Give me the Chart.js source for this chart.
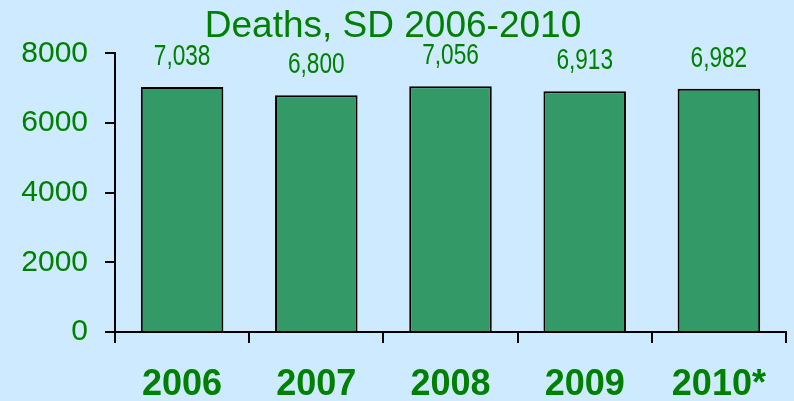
<!DOCTYPE html>
<html>
<head>
<meta charset="utf-8">
<script src="https://cdn.jsdelivr.net/npm/chart.js@4.4.1/dist/chart.umd.min.js"></script>
<style>
  html, body { margin: 0; padding: 0; background: #cdeafe; }
  #wrap { width: 794px; height: 401px; }
</style>
</head>
<body>
<div id="wrap"><canvas id="deathsChart" width="794" height="401"></canvas></div>
<script>
const years = ['2006', '2007', '2008', '2009', '2010*'];
const deaths = [7038, 6800, 7056, 6913, 6982];
const yTicks = [0, 2000, 4000, 6000, 8000];

const GREEN = '#008000';

// number above each bar, e.g. "7,038", in a narrowed face
const valueLabels = {
    id: 'valueLabels',
    afterDatasetsDraw(chart) {
        const ctx = chart.ctx;
        const meta = chart.getDatasetMeta(0);
        const squeeze = 0.78;
        ctx.save();
        ctx.fillStyle = GREEN;
        ctx.font = '29px "Liberation Sans", Arial, sans-serif';
        ctx.textAlign = 'center';
        ctx.textBaseline = 'alphabetic';
        meta.data.forEach((bar, i) => {
            ctx.save();
            ctx.translate(bar.x, bar.y - 22);
            ctx.scale(squeeze, 1);
            ctx.fillText(deaths[i].toLocaleString('en-US'), 0, 0);
            ctx.restore();
        });
        ctx.restore();
    }
};

const ctx = document.getElementById('deathsChart').getContext('2d');
new Chart(ctx, {
    type: 'bar',
    data: {
        labels: years,
        datasets: [{
            data: deaths,
            backgroundColor: '#339966',
            borderColor: '#000000',
            borderWidth: 2,
            borderSkipped: 'bottom',
            categoryPercentage: 1,
            barPercentage: 0.615
        }]
    },
    options: {
        responsive: false,
        animation: false,
        layout: { padding: { top: 0, right: 8, left: 0, bottom: 0 } },
        plugins: {
            legend: { display: false },
            tooltip: { enabled: false },
            title: {
                display: true,
                text: 'Deaths, SD 2006-2010',
                color: GREEN,
                font: { family: '"Liberation Sans", Arial, sans-serif', size: 37, weight: 'normal' },
                padding: { top: 5, bottom: 4 }
            }
        },
        scales: {
            y: {
                min: 0,
                max: 8000,
                afterBuildTicks(axis) { axis.ticks = yTicks.map(v => ({ value: v })); },
                afterFit(axis) { axis.width = 115; },
                ticks: {
                    color: GREEN,
                    font: { family: '"Liberation Sans", Arial, sans-serif', size: 30 },
                    padding: 17,
                    callback: v => String(v)
                },
                grid: { drawOnChartArea: false, color: '#000000', tickLength: 10, lineWidth: 2 },
                border: { color: '#000000', width: 2 }
            },
            x: {
                afterFit(axis) { axis.height = 69; },
                ticks: {
                    color: GREEN,
                    font: { family: '"Liberation Sans", Arial, sans-serif', size: 36, weight: 'bold' },
                    padding: 20
                },
                grid: { offset: true, drawOnChartArea: false, color: '#000000', tickLength: 11, lineWidth: 2 },
                border: { color: '#000000', width: 2 }
            }
        }
    },
    plugins: [valueLabels]
});
</script>
</body>
</html>
